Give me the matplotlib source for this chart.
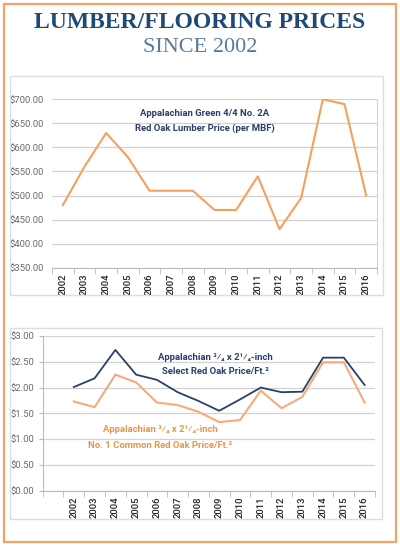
import matplotlib
matplotlib.use("Agg")
import matplotlib.pyplot as plt
from matplotlib.patches import Rectangle
from matplotlib.ticker import FixedLocator, FuncFormatter

years = [str(y) for y in range(2002, 2017)]
lumber = [480, 560, 630, 580, 510, 510, 510, 470, 470, 540, 430, 495, 700, 690, 500]
select_price = [2.01, 2.18, 2.73, 2.25, 2.15, 1.91, 1.74, 1.55, 1.77, 2.00, 1.91, 1.92, 2.58, 2.58, 2.05]
common_price = [1.73, 1.62, 2.25, 2.10, 1.71, 1.66, 1.53, 1.33, 1.37, 1.94, 1.60, 1.82, 2.49, 2.49, 1.71]
lumber_ticks = [350, 400, 450, 500, 550, 600, 650, 700]
floor_ticks = [0.0, 0.5, 1.0, 1.5, 2.0, 2.5, 3.0]

ORANGE = "#F5A05C"
LIGHT_ORANGE = "#F7A97A"
NAVY = "#2A3F6A"
TXT_ORANGE = "#E8954C"
GRID = "#D2D2D2"
TICKC = "#6A6A6A"
W, H = 400, 547

fig = plt.figure(figsize=(4, 5.47), dpi=100)
fig.patch.set_facecolor("white")

def fx(x):
    return x / W

def fy(y):
    return 1 - y / H

fig.add_artist(Rectangle((fx(4), fy(542)), fx(392), 538 / H, transform=fig.transFigure,
                         fill=False, edgecolor="#F2A36A", linewidth=1.6))
fig.add_artist(Rectangle((fx(10), fy(295)), fx(373), 219 / H, transform=fig.transFigure,
                         fill=False, edgecolor="#DDDDDD", linewidth=1.0))
fig.add_artist(Rectangle((fx(10), fy(519)), fx(372), 191 / H, transform=fig.transFigure,
                         fill=False, edgecolor="#DDDDDD", linewidth=1.0))

fig.text(0.5, fy(23), "LUMBER/FLOORING PRICES", ha="center", va="center",
         family="Liberation Serif", weight="bold", fontsize=17, color="#1F4A75")
fig.text(0.5, fy(48), "SINCE 2002", ha="center", va="center",
         family="Liberation Serif", fontsize=16, color="#5A7A9C")

lab_font = ["Roboto", "DejaVu Sans"]
ANN = 6.8

# ---------- top chart ----------
ax1 = fig.add_axes([fx(52), fy(267.7), fx(325), 168.4 / H])
x1 = list(range(len(years)))
ax1.plot(x1, lumber, color=ORANGE, linewidth=1.5)
ax1.set_xlim(-0.5, len(years) - 0.5)
ax1.set_ylim(350, 700)
ax1.yaxis.set_major_locator(FixedLocator(lumber_ticks))
ax1.yaxis.set_major_formatter(FuncFormatter(lambda v, p: f"${v:.2f}"))
ax1.set_xticks(x1)
ax1.set_xticklabels(years, rotation=90)
ax1.set_xticks([i - 0.5 for i in range(len(years) + 1)], minor=True)
ax1.tick_params(axis="x", which="major", length=0, pad=4, labelsize=6.8, labelcolor="#222222")
ax1.tick_params(axis="x", which="minor", length=4, color="#BBBBBB")
ax1.tick_params(axis="y", length=0, pad=6, labelsize=6.8, labelcolor=TICKC)
ax1.grid(axis="y", color=GRID, linewidth=0.9)
ax1.set_axisbelow(True)
for s in ["top", "left"]:
    ax1.spines[s].set_visible(False)
ax1.spines["bottom"].set_color("#BBBBBB")
ax1.spines["right"].set_color("#D5D5D5")
for t in ax1.get_xticklabels():
    t.set_family(lab_font)
    t.set_weight("medium")
for t in ax1.get_yticklabels():
    t.set_family(lab_font)
fig.text(fx(205), fy(114), "Appalachian Green 4/4 No. 2A", ha="center", va="center",
         family=lab_font, weight="bold", fontsize=ANN, color=NAVY)
fig.text(fx(205), fy(128), "Red Oak Lumber Price (per MBF)", ha="center", va="center",
         family=lab_font, weight="bold", fontsize=ANN, color=NAVY)

# ---------- bottom chart ----------
ax2 = fig.add_axes([fx(42.7), fy(490.7), fx(332.3), 154.7 / H])
x2 = list(range(len(years)))
ax2.plot(x2, select_price, color=NAVY, linewidth=1.3)
ax2.plot(x2, common_price, color=LIGHT_ORANGE, linewidth=1.5)
ax2.set_xlim(-1.5, len(years) - 0.5)
ax2.set_ylim(0, 3)
ax2.yaxis.set_major_locator(FixedLocator(floor_ticks))
ax2.yaxis.set_major_formatter(FuncFormatter(lambda v, p: f"${v:.2f}"))
ax2.set_xticks(x2)
ax2.set_xticklabels(years, rotation=90)
ax2.set_xticks([i - 0.5 for i in range(-1, len(years) + 1)], minor=True)
ax2.tick_params(axis="x", which="major", length=0, pad=4, labelsize=6.8, labelcolor="#222222")
ax2.tick_params(axis="x", which="minor", length=4, color="#BBBBBB")
ax2.tick_params(axis="y", length=3, color="#BBBBBB", pad=3, labelsize=6.8, labelcolor=TICKC)
ax2.grid(axis="y", color=GRID, linewidth=0.9)
ax2.set_axisbelow(True)
ax2.spines["top"].set_visible(False)
ax2.spines["right"].set_visible(False)
ax2.spines["left"].set_color("#BBBBBB")
ax2.spines["bottom"].set_color("#BBBBBB")
for t in ax2.get_xticklabels():
    t.set_family(lab_font)
    t.set_weight("medium")
for t in ax2.get_yticklabels():
    t.set_family(lab_font)

fig.text(fx(215), fy(357), "Appalachian ³⁄₄ x 2¹⁄₄-inch", ha="center", va="center",
         family=lab_font, weight="bold", fontsize=ANN, color=NAVY)
fig.text(fx(215), fy(372), "Select Red Oak Price/Ft.²", ha="center", va="center",
         family=lab_font, weight="bold", fontsize=ANN, color=NAVY)
fig.text(fx(160), fy(430), "Appalachian ³⁄₄ x 2¹⁄₄-inch", ha="center", va="center",
         family=lab_font, weight="bold", fontsize=ANN, color=TXT_ORANGE)
fig.text(fx(160), fy(445), "No. 1 Common Red Oak Price/Ft.²", ha="center", va="center",
         family=lab_font, weight="bold", fontsize=ANN, color=TXT_ORANGE)

fig.savefig("out.png", dpi=100, facecolor="white")
